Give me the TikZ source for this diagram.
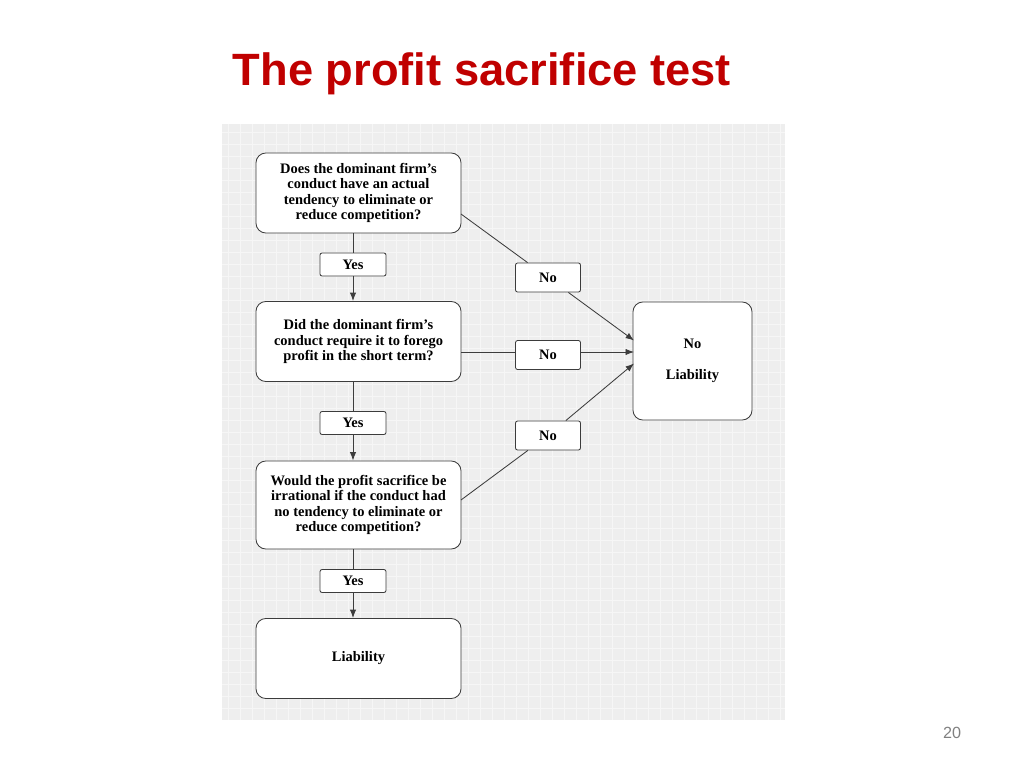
\documentclass[tikz,border=0pt]{standalone}
\usepackage{fontspec}
\setmainfont{Liberation Serif}
\newfontfamily\arialfont{Liberation Sans}
\usetikzlibrary{arrows.meta}
\definecolor{titlered}{RGB}{192,0,0}
\definecolor{boxline}{RGB}{60,60,60}
\definecolor{bggray}{RGB}{238,238,238}
\definecolor{gridline}{RGB}{246,246,246}
\tikzset{
    qbox/.style={draw=boxline, line width=0.6pt, fill=white, rounded corners=7pt,
        minimum width=5.125cm, minimum height=2cm, align=center,
        font=\fontsize{10.3}{10.9}\selectfont\bfseries},
    lbl/.style={draw=boxline, line width=0.6pt, fill=white, rounded corners=1.5pt,
        minimum width=1.625cm, minimum height=0.725cm,
        font=\fontsize{10.3}{10.9}\selectfont\bfseries},
    flow/.style={draw=boxline, line width=0.6pt, -{Latex[length=6pt,width=4.5pt]}},
    link/.style={draw=boxline, line width=0.6pt}
}

\begin{document}
\begin{tikzpicture}[x=0.025cm, y=-0.025cm]
    \useasboundingbox (0,0) rectangle (1024,768);
    % Background panel
    \fill[bggray] (222,124) rectangle (785,720);
    \draw[gridline, line width=0.3pt, step=0.3cm] (222,124) grid (785,720);
    % Title and page number
    \node[text=titlered, font=\arialfont\fontsize{32.2}{36}\selectfont\bfseries] (title) at (482,74) {The profit sacrifice test};
    \node[text=gray, font=\arialfont\fontsize{11.5}{13}\selectfont] (page) at (952,733) {20};
    % Question boxes
    \node[qbox] (q1) at (358.5,193) {Does the dominant firm's\\conduct have an actual\\tendency to eliminate or\\reduce competition?};
    \node[qbox] (q2) at (358.5,341.5) {Did the dominant firm's\\conduct require it to forego\\profit in the short term?};
    \node[qbox, minimum height=2.2cm] (q3) at (358.5,505) {Would the profit sacrifice be\\irrational if the conduct had\\no tendency to eliminate or\\reduce competition?};
    \node[qbox] (liab) at (358.5,658.5) {Liability};
    \node[qbox, minimum width=2.975cm, minimum height=2.95cm] (noliab) at (692.5,361) {No\\~\\Liability};
    % Yes labels
    \node[lbl, minimum width=1.65cm, minimum height=0.575cm] (yes1) at (353,264.5) {Yes};
    \node[lbl, minimum width=1.65cm, minimum height=0.575cm] (yes2) at (353,423) {Yes};
    \node[lbl, minimum width=1.65cm, minimum height=0.575cm] (yes3) at (353,581) {Yes};
    % No labels
    \node[lbl] (no1) at (548,277.5) {No};
    \node[lbl] (no2) at (548,355) {No};
    \node[lbl] (no3) at (548,435.5) {No};
    % Ends of the No connectors
    \coordinate (a1) at (461,214);
    \coordinate (b1) at (634,340.5);
    \coordinate (a2) at (461,352);
    \coordinate (b2) at (634,352);
    \coordinate (a3) at (461,500);
    \coordinate (b3) at (634,363.5);
    % Yes connectors
    \draw[link] (q1.south -| yes1) -- (yes1);
    \draw[flow] (yes1) -- (q2.north -| yes1);
    \draw[link] (q2.south -| yes2) -- (yes2);
    \draw[flow] (yes2) -- (q3.north -| yes2);
    \draw[link] (q3.south -| yes3) -- (yes3);
    \draw[flow] (yes3) -- (liab.north -| yes3);
    % No connectors
    \draw[link] (a1) -- (no1);
    \draw[flow] (no1) -- (b1);
    \draw[link] (a2) -- (no2.west |- a2);
    \draw[flow] (no2.east |- b2) -- (b2);
    \draw[link] (a3) -- (no3);
    \draw[flow] (no3) -- (b3);
\end{tikzpicture}
\end{document}
